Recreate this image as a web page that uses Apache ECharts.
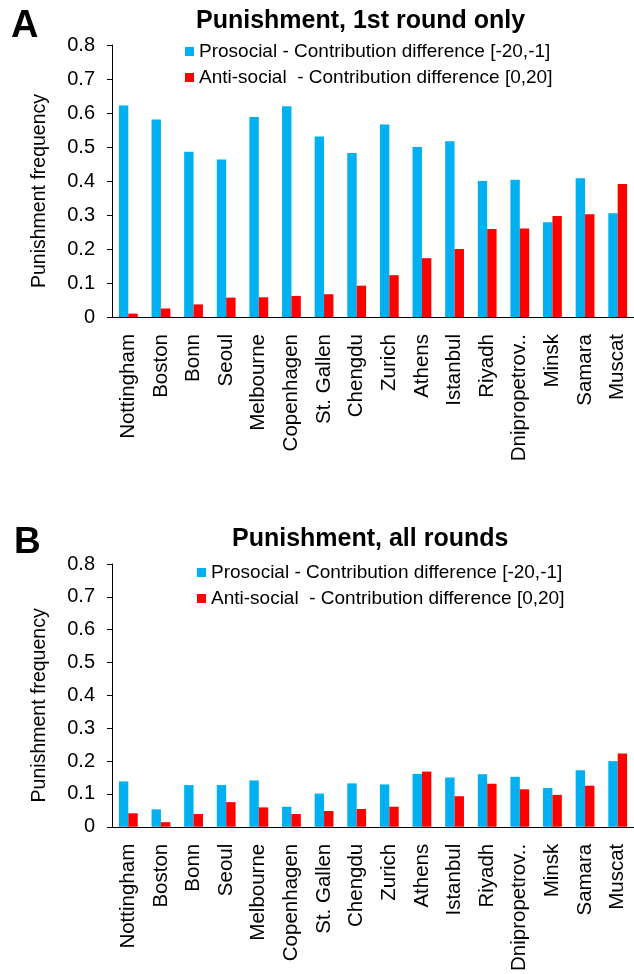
<!DOCTYPE html>
<html>
<head>
<meta charset="utf-8">
<script src="https://cdn.jsdelivr.net/npm/echarts@6/dist/echarts.min.js"></script>
<style>
html,body{margin:0;padding:0;background:#fff;}
#chart{width:634px;height:974px;}
</style>
</head>
<body>
<div id="chart"></div>
<script>
// cities, same order in both panels
const cities = ['Nottingham','Boston','Bonn','Seoul','Melbourne','Copenhagen','St. Gallen','Chengdu',
    'Zurich','Athens','Istanbul','Riyadh','Dnipropetrov..','Minsk','Samara','Muscat'];

// panel A: 1st round only
const prosocialFirst = [0.622,0.581,0.486,0.463,0.588,0.620,0.531,0.482,0.566,0.500,0.517,0.400,0.404,0.279,0.408,0.305];
const antisocialFirst = [0.010,0.025,0.037,0.057,0.058,0.062,0.067,0.092,0.123,0.173,0.200,0.259,0.260,0.297,0.302,0.391];

// panel B: all rounds
const prosocialAll = [0.138,0.053,0.127,0.127,0.141,0.061,0.101,0.132,0.129,0.161,0.150,0.160,0.152,0.118,0.172,0.200];
const antisocialAll = [0.041,0.014,0.039,0.075,0.059,0.039,0.048,0.054,0.061,0.168,0.093,0.131,0.114,0.097,0.125,0.223];

const NAME_PRO = 'Prosocial - Contribution difference [-20,-1]';
const NAME_ANTI = 'Anti-social  - Contribution difference [0,20]';
const BLUE = '#00b0f0', RED = '#ff0000';
const FONT = 'Liberation Sans, Arial, sans-serif';

const chart = echarts.init(document.getElementById('chart'));

function xAx(gi){
    return {
        type:'category', gridIndex:gi, data:cities,
        axisLine:{lineStyle:{color:'#000',width:1}},
        axisTick:{length:5,lineStyle:{color:'#000'}},
        axisLabel:{rotate:90,margin:17,color:'#000',fontSize:20.5,fontFamily:FONT,interval:0}
    };
}
function yAx(gi){
    return {
        type:'value', gridIndex:gi, min:0, max:0.8, interval:0.1,
        name:'Punishment frequency', nameLocation:'middle', nameGap:62,
        nameTextStyle:{color:'#000',fontSize:19.5,fontFamily:FONT,padding:[0,20,0,0]},
        splitLine:{show:false},
        axisLine:{show:true,lineStyle:{color:'#000',width:1}},
        axisTick:{show:true,length:5,lineStyle:{color:'#000'}},
        axisLabel:{margin:17,color:'#000',fontSize:20,fontFamily:FONT}
    };
}
function bar(name,data,color,gi){
    return {
        name:name, type:'bar', xAxisIndex:gi, yAxisIndex:gi, data:data,
        barWidth:9.4, barGap:'0%', itemStyle:{color:color}, animation:false
    };
}
function legend(left,top){
    return {
        orient:'vertical', left:left, top:top, padding:0, icon:'rect',
        itemWidth:9, itemHeight:9, itemGap:7,
        textStyle:{color:'#000',fontSize:19,fontFamily:FONT},
        data:[NAME_PRO,NAME_ANTI]
    };
}
function ttl(text,left,top,size){
    return {text:text,left:left,top:top,padding:0,
        textStyle:{fontSize:size,fontWeight:'bold',color:'#000',fontFamily:FONT}};
}

chart.setOption({
    animation:false,
    title:[
        ttl('A',11,8,38),
        ttl('Punishment, 1st round only',196,9,25),
        ttl('B',14,524,37),
        ttl('Punishment, all rounds',232,527,25)
    ],
    legend:[legend(185,42),legend(197,563)],
    grid:[
        {left:112,top:45,height:272,right:-3},
        {left:112,top:564,height:271,right:-3}
    ],
    xAxis:[xAx(0),xAx(1)],
    yAxis:[yAx(0),yAx(1)],
    series:[
        bar(NAME_PRO,prosocialFirst,BLUE,0),
        bar(NAME_ANTI,antisocialFirst,RED,0),
        bar(NAME_PRO,prosocialAll,BLUE,1),
        bar(NAME_ANTI,antisocialAll,RED,1)
    ]
});
</script>
</body>
</html>
